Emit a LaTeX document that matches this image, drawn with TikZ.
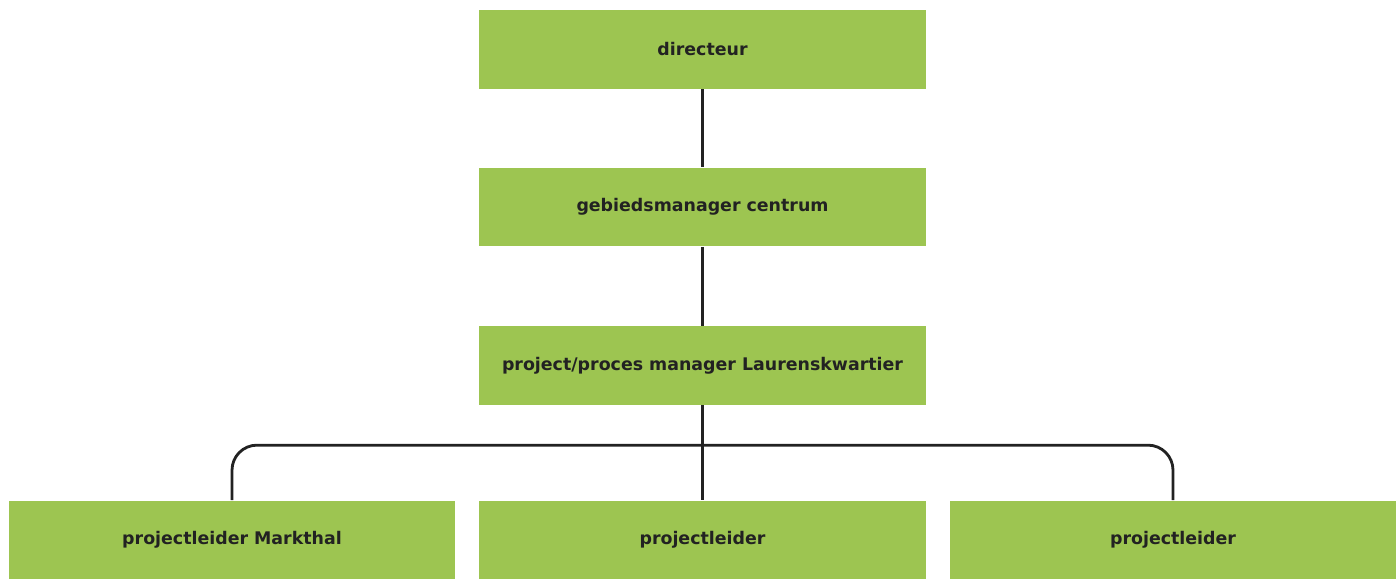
\documentclass[tikz,border=0pt]{standalone}
\usepackage{fontspec}
\setmainfont{DejaVu Sans}
\usetikzlibrary{positioning,calc}
\definecolor{orggreen}{HTML}{9DC551}
\definecolor{orgdark}{HTML}{222222}

\begin{document}
\begin{tikzpicture}[x=0.02cm,y=-0.02cm,
    post/.style = {rectangle,fill=orggreen,draw=none,align=center,
                   font=\fontsize{9.9}{11}\selectfont\bfseries,text=orgdark,
                   minimum width=8.94cm,minimum height=1.58cm,inner sep=0pt},
    lijn/.style = {draw=orgdark,line width=1.6pt,rounded corners=0.5cm},
  ]
  \useasboundingbox (0,0) rectangle (1399,580);

  \node[post] (dir)  at (702.5,49.5)  {directeur};
  \node[post] (gm)   at (702.5,207)   {gebiedsmanager centrum};
  \node[post] (ppm)  at (702.5,365.5) {project/proces manager Laurenskwartier};
  \node[post] (pl1)  at (232,540)     {projectleider Markthal};
  \node[post] (pl2)  at (702.5,540)   {projectleider};
  \node[post] (pl3)  at (1173,540)    {projectleider};

  % hierarchie
  \draw[lijn] (dir) -- (gm);
  \draw[lijn] (gm)  -- (ppm);
  \draw[lijn] (ppm) -- (pl2);
  \draw[lijn] (pl1.north) -- ($(pl1.north)+(0,-55)$) -- ($(pl3.north)+(0,-55)$)
        -- (pl3.north);

\end{tikzpicture}
\end{document}
